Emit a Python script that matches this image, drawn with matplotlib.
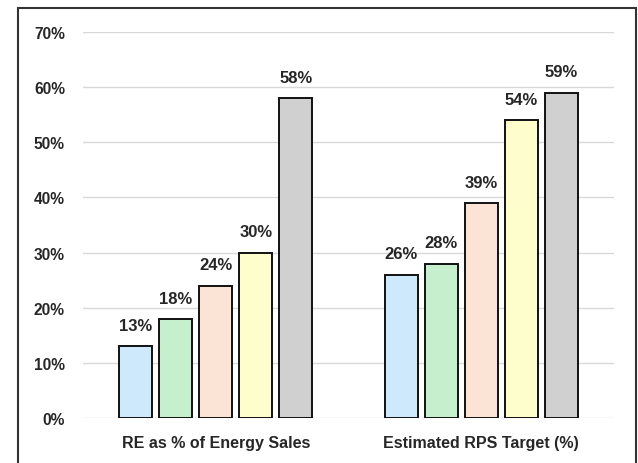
import matplotlib
matplotlib.use("Agg")
import matplotlib.pyplot as plt
from matplotlib.patches import Rectangle
import numpy as np

categories = ["RE as % of Energy Sales", "Estimated RPS Target (%)"]
series_values = [
    [13, 26],
    [18, 28],
    [24, 39],
    [30, 54],
    [58, 59],
]
series_colors = ["#cde9fb", "#c6efcd", "#fbe3d6", "#fefdcc", "#d0d0d0"]
y_ticks = [0, 10, 20, 30, 40, 50, 60, 70]
y_tick_labels = [f"{v}%" for v in y_ticks]

plt.rcParams["font.family"] = ["Liberation Sans", "DejaVu Sans"]

fig = plt.figure(figsize=(6.38, 4.64), dpi=100)
ax = fig.add_axes([83 / 638, 1 - 419 / 464, (614 - 83) / 638, (419 - 33) / 464])

x = np.arange(len(categories))
width = 0.124
step = 0.151
n = len(series_values)
for i, (vals, col) in enumerate(zip(series_values, series_colors)):
    offs = (i - (n - 1) / 2) * step
    bars = ax.bar(x + offs, vals, width, color=col, edgecolor="#111111",
                  linewidth=1.4, zorder=3)
    for b, v in zip(bars, vals):
        ax.text(b.get_x() + b.get_width() / 2, v + 2.4, f"{v}%",
                ha="center", va="bottom", fontsize=12, fontweight="bold",
                color="#262626")

ax.set_xlim(-0.5, 1.5)
ax.set_ylim(0, 70)
ax.set_yticks(y_ticks)
ax.set_yticklabels(y_tick_labels, fontsize=11.2, fontweight="bold", color="#262626")
ax.set_xticks(x)
ax.set_xticklabels(categories, fontsize=11.5, fontweight="bold", color="#262626")
ax.tick_params(axis="both", length=0)
ax.tick_params(axis="y", pad=13)
ax.tick_params(axis="x", pad=12)
ax.grid(axis="y", color="#d9d9d9", linewidth=1.0, zorder=0)
for s in ax.spines.values():
    s.set_visible(False)

# outer frame around the chart area
fig.patches.append(Rectangle((17.5 / 638, -0.05), (636 - 17.5) / 638, 1.05 - 8.5 / 464,
                             transform=fig.transFigure, fill=False,
                             edgecolor="#333333", linewidth=1.5))

fig.savefig("out.png", dpi=100)
